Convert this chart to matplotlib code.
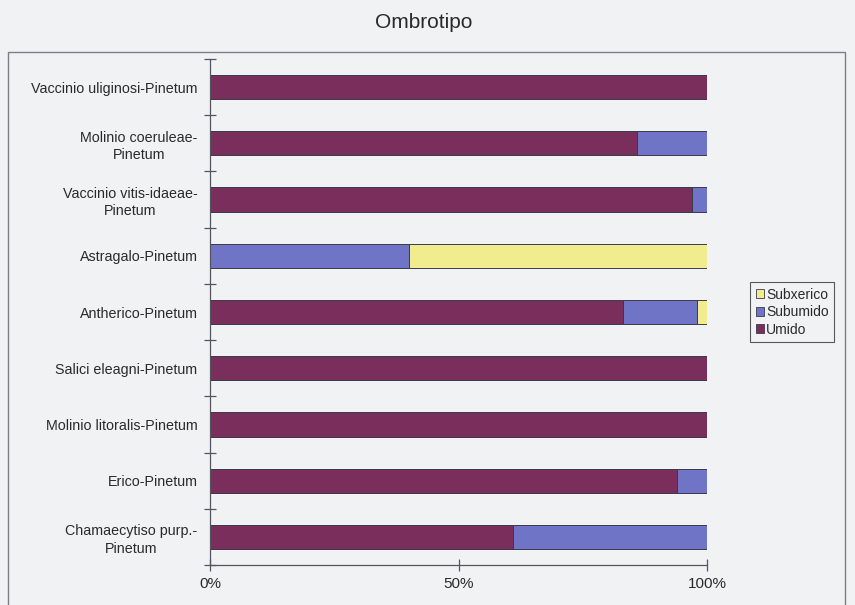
import matplotlib
matplotlib.use("Agg")
import matplotlib.pyplot as plt
from matplotlib.patches import Rectangle, Patch
import numpy as np

plt.rcParams['font.family'] = ['Liberation Sans', 'DejaVu Sans']

# Associations, listed bottom to top as drawn on the y axis
categories = [
    "Chamaecytiso purp.-\nPinetum",
    "Erico-Pinetum",
    "Molinio litoralis-Pinetum",
    "Salici eleagni-Pinetum",
    "Antherico-Pinetum",
    "Astragalo-Pinetum",
    "Vaccinio vitis-idaeae-\nPinetum",
    "Molinio coeruleae-\nPinetum",
    "Vaccinio uliginosi-Pinetum",
]

# Share of each ombrotype (%)
umido = [61, 94, 100, 100, 83, 0, 97, 86, 100]
subumido = [39, 6, 0, 0, 15, 40, 3, 14, 0]
subxerico = [0, 0, 0, 0, 2, 60, 0, 0, 0]

series_names = ["Umido", "Subumido", "Subxerico"]
colors = {"Umido": "#7a2e5c", "Subumido": "#6f74c6", "Subxerico": "#f1ed8e"}
x_ticks = [0, 50, 100]
x_tick_labels = ["0%", "50%", "100%"]

bg = "#f1f2f4"
W, H = 855, 605
fig = plt.figure(figsize=(W / 100, H / 100), dpi=100, facecolor=bg)

# chart border
fig.patches.append(Rectangle((8 / W, -0.05), (845 - 8) / W, (H - 52) / H + 0.05,
                             transform=fig.transFigure, fill=False,
                             edgecolor="#7d7d82", linewidth=1.0))

fig.text(424 / W, 1 - 22 / H, "Ombrotipo", ha="center", va="center",
         fontsize=15, color="#2a2a2a")

ax = fig.add_axes([210 / W, (H - 565) / H, 497 / W, 506 / H])
ax.set_facecolor(bg)

y = np.arange(len(categories))
h = 0.43
data = {"Umido": umido, "Subumido": subumido, "Subxerico": subxerico}
left = np.zeros(len(categories))
for name in series_names:
    vals = np.array(data[name], dtype=float)
    ax.barh(y, vals, left=left, height=h, color=colors[name],
            edgecolor="#3a3a4a", linewidth=0.7)
    left += vals

ax.set_xlim(0, 100)
ax.set_ylim(-0.5, len(categories) - 0.5)

for s in ["top", "right"]:
    ax.spines[s].set_visible(False)
for s in ["left", "bottom"]:
    ax.spines[s].set_color("#555560")
    ax.spines[s].set_linewidth(0.9)

ax.set_xticks(x_ticks)
ax.set_xticklabels(x_tick_labels)
ax.tick_params(axis="x", direction="inout", length=8, width=0.9,
               color="#555560", labelsize=11, labelcolor="#2a2a2a", pad=5)

ax.set_yticks(y)
ax.set_yticklabels(categories, multialignment="center", linespacing=1.3)
ax.tick_params(axis="y", length=0, labelsize=10.3, labelcolor="#2a2a2a", pad=9)
ax.set_yticks(np.arange(-0.5, len(categories), 1.0), minor=True)
ax.tick_params(axis="y", which="minor", direction="inout", length=9, width=0.9,
               color="#555560")

handles = [Patch(facecolor=colors[n], edgecolor="#3a3a4a", linewidth=0.6)
           for n in ["Subxerico", "Subumido", "Umido"]]
leg = fig.legend(handles, ["Subxerico", "Subumido", "Umido"],
                 loc="upper left", bbox_to_anchor=(750 / W, 1 - 282 / H),
                 frameon=True, fancybox=False, fontsize=10,
                 handlelength=0.6, handleheight=0.6, handletextpad=0.15,
                 borderpad=0.4, labelspacing=0.25, borderaxespad=0)
leg.get_frame().set_edgecolor("#333333")
leg.get_frame().set_linewidth(0.8)
leg.get_frame().set_facecolor(bg)
for t in leg.get_texts():
    t.set_color("#2a2a2a")

fig.savefig("out.png", dpi=100, facecolor=bg)
